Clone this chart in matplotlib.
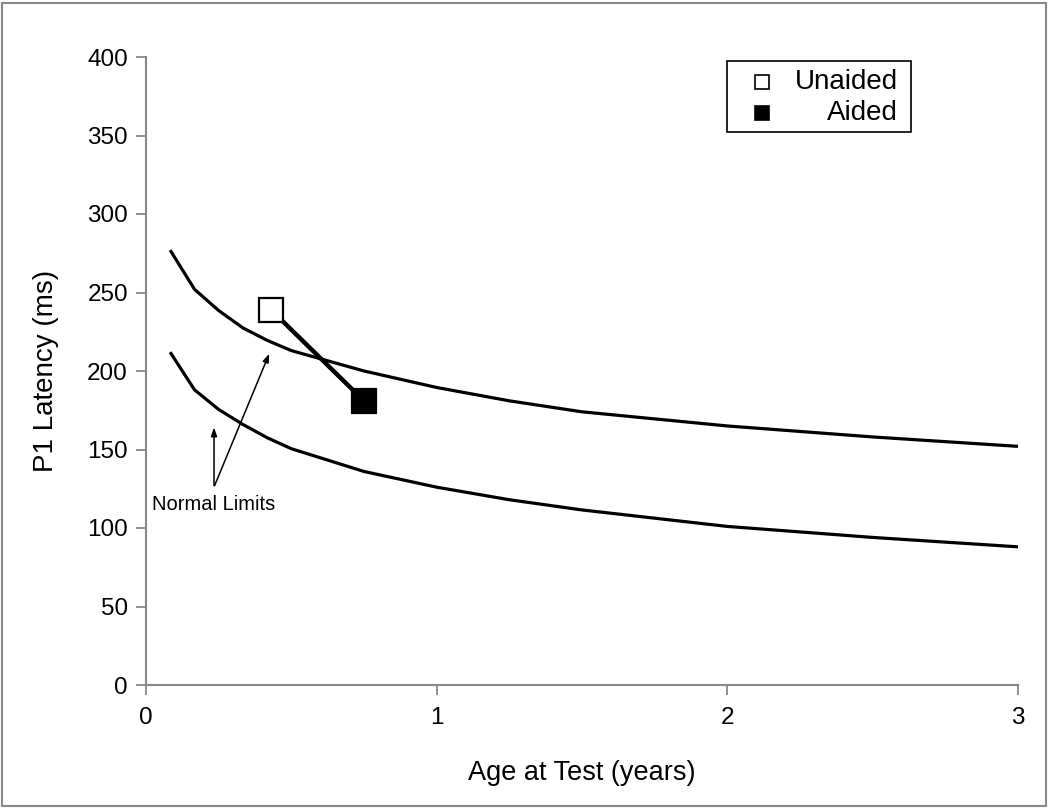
import matplotlib
matplotlib.use("Agg")
import matplotlib.pyplot as plt
from matplotlib.patches import Rectangle
from matplotlib.lines import Line2D

plt.rcParams['font.family'] = ['Liberation Sans', 'DejaVu Sans']

# Normal-limit curves (age in years, P1 latency in ms)
age_norm = [0.083, 0.167, 0.25, 0.333, 0.417, 0.5, 0.75, 1.0, 1.25, 1.5, 2.0, 2.5, 3.0]
upper_limit = [277, 252, 238.5, 227.5, 219.5, 213, 200, 189.5, 181, 174, 165, 158, 152]
lower_limit = [212, 188, 175.5, 166, 157.5, 150.5, 136, 126, 118, 111.5, 101, 94, 88]

# Patient data
series_names = ["Unaided", "Aided"]
patient_age = [0.43, 0.75]
patient_latency = [239, 181]

x_ticks = [0, 1, 2, 3]
y_ticks = list(range(0, 401, 50))

fig = plt.figure(figsize=(10.5, 8.11), dpi=100)
ax = fig.add_axes([146/1050, 1-685/811, (1018-146)/1050, (685-57)/811])

ax.plot(age_norm, upper_limit, color='black', lw=2.3, solid_capstyle='butt')
ax.plot(age_norm, lower_limit, color='black', lw=2.3, solid_capstyle='butt')

ax.plot(patient_age, patient_latency, color='black', lw=3.2, zorder=3)
ax.plot(patient_age[0], patient_latency[0], marker='s', ms=17, mfc='white',
        mec='black', mew=1.6, ls='none', zorder=4)
ax.plot(patient_age[1], patient_latency[1], marker='s', ms=17, mfc='black',
        mec='black', mew=1.6, ls='none', zorder=4)

# Annotation
arrow_kw = dict(arrowstyle='-|>,head_length=0.5,head_width=0.18', color='black', lw=1.1,
                shrinkA=0, shrinkB=0)
ax.annotate('', xy=(0.234, 164), xytext=(0.234, 127), arrowprops=arrow_kw)
ax.annotate('', xy=(0.424, 211), xytext=(0.236, 127), arrowprops=arrow_kw)
ax.text(0.232, 115, 'Normal Limits', ha='center', va='center', fontsize=14.5)

ax.set_xlim(0, 3)
ax.set_ylim(0, 400)
ax.set_xticks(x_ticks)
ax.set_yticks(y_ticks)
ax.tick_params(axis='both', labelsize=17.5, color='#888888', length=7, width=1.3)
ax.tick_params(axis='x', pad=9)
ax.tick_params(axis='y', pad=6)
for s in ['top', 'right']:
    ax.spines[s].set_visible(False)
for s in ['left', 'bottom']:
    ax.spines[s].set_color('#888888')
    ax.spines[s].set_linewidth(1.5)

ax.set_xlabel('Age at Test (years)', fontsize=19.5, labelpad=22)
ax.set_ylabel('P1 Latency (ms)', fontsize=20, labelpad=20)

# Manual legend (text right-aligned as in reference)
fig.patches.append(Rectangle((727/1050, 1-132/811), (911-727)/1050, (132-61)/811,
                             transform=fig.transFigure, fill=False, ec='black', lw=1.2))
leg_y = [1-82/811, 1-113/811]
leg_fc = ['white', 'black']
for name, yy, fc in zip(series_names, leg_y, leg_fc):
    fig.add_artist(Line2D([762/1050], [yy], marker='s', ms=10, mfc=fc, mec='black',
                          mew=1.2, ls='none', transform=fig.transFigure))
    fig.text(898/1050, yy, name, ha='right', va='center', fontsize=20)

# Outer border
fig.patches.append(Rectangle((2/1050, 1-806/811), 1044/1050, 803/811,
                             transform=fig.transFigure, fill=False, ec='#888888', lw=1.5))

fig.savefig('out.png', dpi=100)
